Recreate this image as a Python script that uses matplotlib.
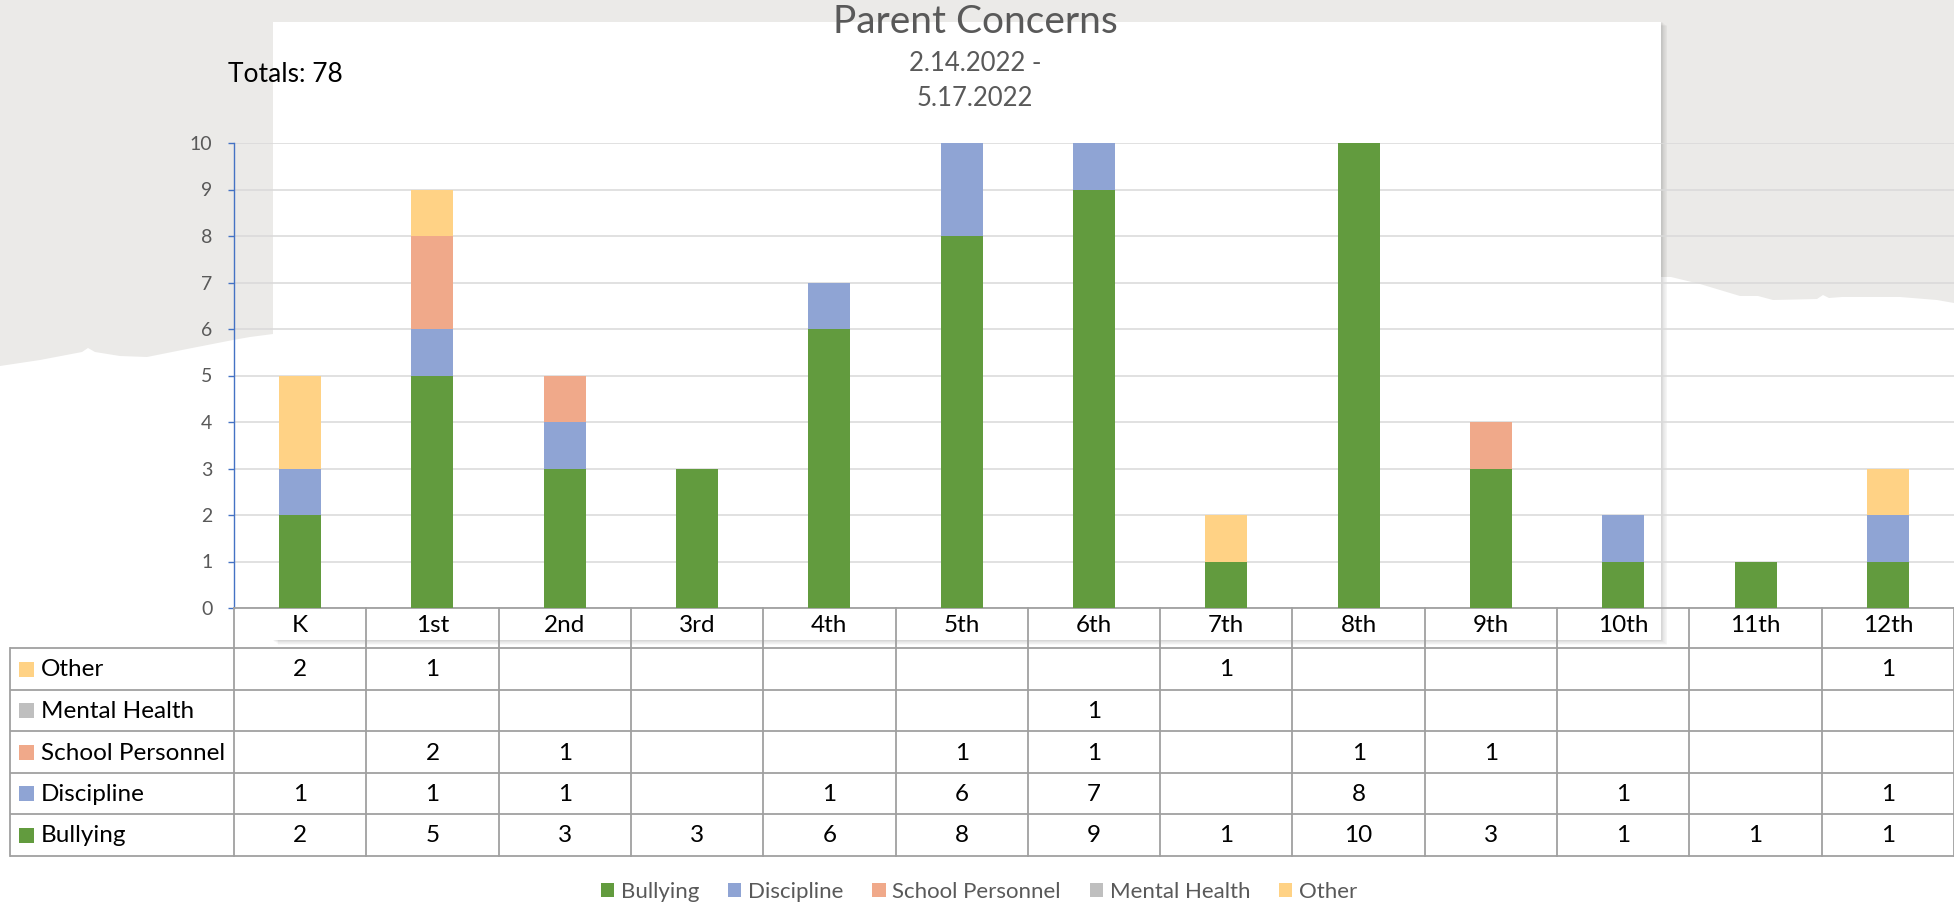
import matplotlib
matplotlib.use("Agg")
import matplotlib.pyplot as plt
from matplotlib.patches import Rectangle, Polygon, Patch
import matplotlib.transforms as mtransforms

plt.rcParams['font.family'] = ['Lato', 'DejaVu Sans']

# ---------------- data ----------------
categories = ["K", "1st", "2nd", "3rd", "4th", "5th", "6th", "7th", "8th", "9th", "10th", "11th", "12th"]
series_names = ["Bullying", "Discipline", "School Personnel", "Mental Health", "Other"]
bullying = [2, 5, 3, 3, 6, 8, 9, 1, 10, 3, 1, 1, 1]
discipline = [1, 1, 1, 0, 1, 6, 7, 0, 8, 0, 1, 0, 1]
school_personnel = [0, 2, 1, 0, 0, 1, 1, 0, 1, 1, 0, 0, 0]
mental_health = [0, 0, 0, 0, 0, 0, 1, 0, 0, 0, 0, 0, 0]
other = [2, 1, 0, 0, 0, 0, 0, 1, 0, 0, 0, 0, 1]
series_values = [bullying, discipline, school_personnel, mental_health, other]
colors = ["#629B3E", "#8FA4D4", "#F0A98A", "#BFBFBF", "#FFD285"]
y_ticks = list(range(0, 11))
title = "Parent Concerns"
subtitle = "2.14.2022 -\n5.17.2022"
totals_text = "Totals: 78"

# ---------------- figure ----------------
W, H = 1954, 908
fig = plt.figure(figsize=(W / 100, H / 100), dpi=100)

# background (torn paper look)
bg = fig.add_axes([0, 0, 1, 1])
bg.set_xlim(0, W)
bg.set_ylim(H, 0)
bg.axis('off')
bg.set_zorder(0)
bg.add_patch(Rectangle((0, 0), W, H, facecolor='white', edgecolor='none'))
torn_right = [(1954, 303), (1937, 300), (1900, 297), (1842, 297), (1829, 298), (1823, 295),
              (1817, 299), (1773, 300), (1758, 296), (1740, 296), (1700, 284), (1671, 277), (1661, 277)]
torn_left = [(273, 334), (250, 337), (233, 340), (187, 349), (147, 357), (120, 356), (95, 352),
             (88, 348), (82, 352), (40, 360), (0, 366)]
gray_poly = [(0, 0), (W, 0)] + torn_right + torn_left
bg.add_patch(Polygon(gray_poly, closed=True, facecolor='#EBEAE8', edgecolor='none'))
px0, py0, pw, ph = 273, 22, 1388, 618
for k in range(1, 9):
    bg.add_patch(Rectangle((px0 + k * 0.8 - 1, py0 + k * 0.6 - 1), pw + 1, ph + 1,
                           facecolor='black', alpha=0.018, edgecolor='none'))
bg.add_patch(Rectangle((px0, py0), pw, ph, facecolor='white', edgecolor='none'))

# main chart
ax = fig.add_axes([234 / W, 1 - 608 / H, (W - 234) / W, (608 - 143) / H])
ax.set_zorder(2)
ax.set_facecolor('none')
x = list(range(len(categories)))
bottom = [0] * len(categories)
for name, vals, c in zip(series_names, series_values, colors):
    ax.bar(x, vals, bottom=bottom, width=0.317, color=c, edgecolor='none', label=name, zorder=3)
    bottom = [b + v for b, v in zip(bottom, vals)]
ax.set_xlim(-0.5, len(categories) - 0.5)
ax.set_ylim(0, 10)
ax.set_yticks(y_ticks)
ax.yaxis.grid(True, color='#D9D9D9', linewidth=1.1, zorder=0)
ax.set_axisbelow(True)
for s in ['top', 'right']:
    ax.spines[s].set_visible(False)
ax.spines['left'].set_color('#4472C4')
ax.spines['left'].set_linewidth(1.0)
ax.spines['bottom'].set_color('#A0A0A0')
ax.spines['bottom'].set_linewidth(1.3)
ax.tick_params(axis='y', colors='#4472C4', length=4.5, width=1.0, labelsize=14,
               labelcolor='#595959', pad=11)
ax.set_xticks(x)
ax.set_xticklabels(categories, fontsize=17.5, color='black')
ax.tick_params(axis='x', length=0, pad=5)

# table
tax = fig.add_axes([0, 0, 1, 1])
tax.set_xlim(0, W)
tax.set_ylim(H, 0)
tax.axis('off')
tax.set_zorder(3)
tr = mtransforms.blended_transform_factory(ax.transData, tax.transData)
line_c = '#A0A0A0'
row_edges = [648, 690, 731, 773, 814, 856]
for yy in row_edges:
    tax.plot([10, W], [yy, yy], color=line_c, lw=1.3, solid_capstyle='butt')
tax.plot([10, 10], [648, 856], color=line_c, lw=1.3)
for i in range(len(categories) + 1):
    tax.plot([i - 0.5, i - 0.5], [608, 856], color=line_c, lw=1.3, transform=tr)

rows_top_to_bottom = list(range(len(series_names)))[::-1]
for r, si in enumerate(rows_top_to_bottom):
    y0, y1 = row_edges[r], row_edges[r + 1]
    yc = (y0 + y1) / 2
    tax.add_patch(Rectangle((19, yc - 7.5), 15, 15, facecolor=colors[si], edgecolor='none'))
    tax.text(41, yc + 1, series_names[si], ha='left', va='center', fontsize=17.5, color='black')
    for i, v in enumerate(series_values[si]):
        if v:
            tax.text(i, yc + 1, str(v), ha='center', va='center', fontsize=17.5,
                     color='black', transform=tr)

# titles
fig.text(975 / W, 1 - 22 / H, title, ha='center', va='center', fontsize=28, color='#595959')
fig.text(975 / W, 1 - 81 / H, subtitle, ha='center', va='center', fontsize=18.5,
         color='#595959', linespacing=1.5)
fig.text(228 / W, 1 - 75 / H, totals_text, ha='left', va='center', fontsize=19, color='black')

# legend
handles = [Patch(facecolor=c, edgecolor='none') for c in colors]
leg = fig.legend(handles, series_names, loc='center', bbox_to_anchor=(979 / W, 1 - 892 / H),
                 ncol=5, frameon=False, fontsize=16, labelcolor='#595959',
                 handlelength=0.6, handleheight=0.6, handletextpad=0.3, columnspacing=1.3)

fig.savefig('out.png', dpi=100)
